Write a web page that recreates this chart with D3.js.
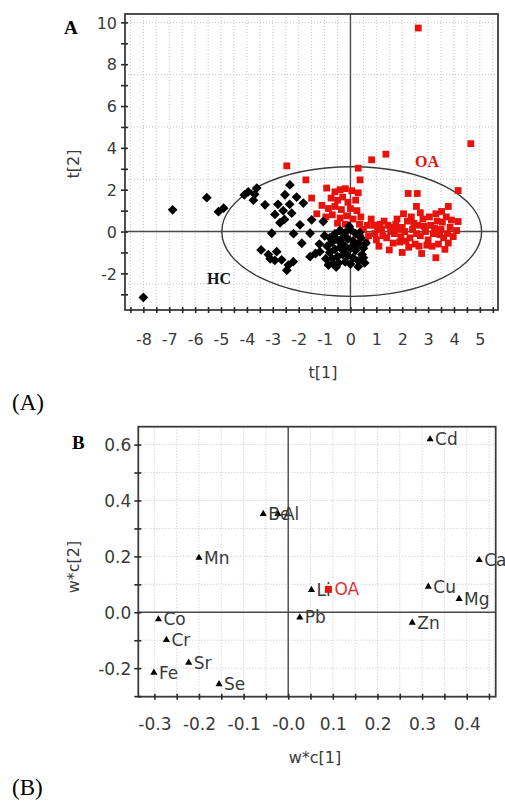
<!DOCTYPE html>
<html>
<head>
<meta charset="utf-8">
<script src="https://cdn.jsdelivr.net/npm/d3@7"></script>
<style>
  html, body { margin: 0; padding: 0; background: #fff; }
  svg { display: block; }
  .tick-lbl { font-family: 'DejaVu Sans', sans-serif; fill: #3a3a3a; }
</style>
</head>
<body>
<script>
// ---- Data ----------------------------------------------------------------
// Panel A: score plot t[1] vs t[2]
var hcScores = [
  [-8.0,-3.15],[-6.87,1.04],[-5.55,1.62],[-5.1,0.95],[-4.9,1.12],
  [-3.95,1.9],[-3.7,1.78],[-3.62,2.08],[-3.75,1.5],[-3.3,1.28],[-4.1,1.75],
  [-2.34,2.23],[-2.53,1.76],[-2.8,1.3],[-2.08,1.65],[-1.82,1.36],[-2.27,0.88],
  [-2.92,0.82],[-2.72,0.42],[-2.55,0.58],[-1.95,0.32],[-1.5,0.56],[-1.05,0.48],
  [-2.35,1.3],[-2.6,1.0],[-3.04,-0.08],[-1.56,-0.08],[-1.88,-0.56],[-2.2,-0.1],
  [-3.45,-0.88],[-3.17,-1.1],[-2.85,-0.96],[-2.66,-1.35],[-2.46,-1.85],[-2.21,-1.44],
  [-2.92,-1.38],[-3.1,-1.3],[-2.4,-1.6],[-1.56,-1.2],[-1.18,-0.96],[-1.35,-1.05],
  [-0.95,-1.3],[-0.8,-0.3],[-0.6,-0.1],[-0.4,0.05],[-0.2,-0.05],[0.0,0.1],
  [0.2,-0.1],[0.4,-0.3],[-0.9,-0.7],[-0.7,-0.5],[-0.5,-0.4],[-0.3,-0.3],
  [-0.1,-0.35],[0.1,-0.45],[0.3,-0.6],[0.5,-0.8],[-0.8,-1.0],[-0.6,-0.85],
  [-0.4,-0.75],[-0.2,-0.7],[0.0,-0.8],[0.2,-0.9],[0.45,-1.1],[-0.7,-1.3],
  [-0.5,-1.2],[-0.3,-1.1],[-0.1,-1.15],[0.1,-1.25],[0.3,-1.4],[0.5,-1.25],
  [-0.66,-1.55],[-0.45,-1.5],[-0.2,-1.45],[0.0,-1.55],[0.3,-1.68],[-0.85,-1.6],
  [-0.55,-1.7],[0.15,-0.6],[-0.25,-0.95],[0.6,-0.55],[-0.05,0.25],[-0.35,-0.55],
  [0.35,-0.05],[-1.2,-0.6],[-1.0,-0.2],[0.55,-1.5]
];
var oaScores = [
  [2.62,9.73],[4.65,4.2],[1.37,3.7],[0.82,3.43],[-2.46,3.14],[0.3,3.03],
  [-1.72,2.47],[0.37,2.47],[4.16,1.96],[2.23,1.82],[2.58,1.82],[2.55,1.2],
  [3.78,1.2],[3.52,0.96],[4.16,0.48],
  [-1.5,1.6],[-0.92,2.08],[-0.6,1.9],[-0.4,2.0],[-0.2,2.05],[0.05,1.95],[0.3,1.85],
  [-0.75,1.6],[-0.5,1.5],[-0.3,1.65],[-0.1,1.4],[0.2,1.5],[-1.1,1.25],[-0.85,1.1],
  [-0.6,1.2],[-0.35,1.05],[0.0,1.1],[0.25,1.0],[-1.3,0.85],[-0.95,0.7],[-0.7,0.8],
  [-0.4,0.65],[-0.15,0.75],[0.1,0.6],[0.4,0.7],[-0.5,0.4],[-0.2,0.35],[0.35,0.35],
  [0.5,0.1],[0.7,-0.2],[0.9,0.3],[1.0,-0.4],[1.2,0.1],[1.3,0.5],[1.4,-0.3],
  [1.5,-0.88],[1.6,0.2],[1.7,-0.1],[1.8,0.6],[1.9,-0.5],[2.0,-1.0],[2.0,0.2],
  [2.1,0.0],[2.2,0.5],[2.3,-0.3],[2.4,0.1],[2.5,-0.6],[2.6,0.3],[2.7,-0.2],
  [2.75,-1.05],[2.8,0.6],[2.9,0.0],[3.0,-0.4],[3.1,0.3],[3.2,-0.1],[3.3,-1.25],
  [3.35,0.5],[3.4,-0.6],[3.5,0.1],[3.6,-0.3],[3.7,0.7],[3.78,-0.55],[3.85,0.2],
  [3.97,-0.24],[4.1,0.05],[0.6,-0.5],[0.8,0.6],[1.1,-0.7],[1.25,-0.2],[1.45,0.3],
  [1.65,-0.55],[1.85,0.1],[2.15,-0.45],[2.35,0.7],[2.55,-0.1],[2.65,-0.7],
  [2.85,0.25],[3.05,0.7],[3.15,-0.7],[3.45,-0.15],[3.55,0.45],[3.65,-0.85],
  [3.9,0.55],[0.4,-0.3],[0.95,-0.1],[1.15,0.35],[1.55,0.0],[1.75,0.35],
  [1.95,-0.25],[2.25,-0.75],[2.45,0.4],[2.95,-0.65],[3.25,0.15],[3.75,-0.1],
  [1.05,0.15],[0.65,0.3],[2.05,0.85],[2.7,0.9],[3.3,0.85]
];
// Hotelling T2 ellipse (centre, semi-axes in t units)
var ellipseA = { cx: 0.05, cy: 0.0, rx: 5.02, ry: 3.1 };
var xTicksA = [-8,-7,-6,-5,-4,-3,-2,-1,0,1,2,3,4,5];
var yTicksA = [-2,0,2,4,6,8,10];

// Panel B: loading plot w*c[1] vs w*c[2]
var elements = ['Cd','Be','Al','Mn','Ca','Li','Cu','Mg','Co','Pb','Zn','Cr','Sr','Fe','Se'];
var wc1 = [0.318,-0.056,-0.023,-0.200,0.428,0.052,0.314,0.383,-0.291,0.026,0.278,-0.273,-0.223,-0.301,-0.155];
var wc2 = [0.619,0.352,0.352,0.195,0.187,0.080,0.092,0.048,-0.025,-0.018,-0.037,-0.099,-0.180,-0.216,-0.257];
var oaLoading = { name: 'OA', x: 0.090, y: 0.082 };
var xTicksB = [-0.3,-0.2,-0.1,0,0.1,0.2,0.3,0.4];
var yTicksB = [-0.2,0,0.2,0.4,0.6];

// ---- Render ---------------------------------------------------------------
var W = 505, H = 801;
var RED = '#e8120c';
var svg = d3.select('body').append('svg').attr('width', W).attr('height', H);

function range(a, b, step) {
  var out = [];
  for (var i = 0; a + i * step <= b + 1e-9; i++) out.push(+(a + i * step).toFixed(4));
  return out;
}

// shared frame/grid/axis drawing
function drawFrame(x, y, opt) {
  var x0 = x.range()[0], x1 = x.range()[1];
  var y0 = y.range()[1], y1 = y.range()[0];
  var g = svg.append('g');

  // dotted grid
  g.selectAll('.vg').data(opt.vGrid).enter().append('line')
    .attr('x1', function(d) { return x(d); }).attr('x2', function(d) { return x(d); })
    .attr('y1', y0).attr('y2', y1)
    .attr('stroke', '#c9c3cc').attr('stroke-width', 1).attr('stroke-dasharray', '1,2');
  g.selectAll('.hg').data(opt.hGrid).enter().append('line')
    .attr('x1', x0).attr('x2', x1)
    .attr('y1', function(d) { return y(d); }).attr('y2', function(d) { return y(d); })
    .attr('stroke', '#c9c3cc').attr('stroke-width', 1).attr('stroke-dasharray', '1,2');

  // zero lines
  g.append('line').attr('x1', x(0)).attr('x2', x(0)).attr('y1', y0).attr('y2', y1)
    .attr('stroke', '#4a4a4a').attr('stroke-width', 1.4);
  g.append('line').attr('x1', x0).attr('x2', x1).attr('y1', y(0)).attr('y2', y(0))
    .attr('stroke', '#4a4a4a').attr('stroke-width', 1.4);

  // frame
  g.append('rect').attr('x', x0).attr('y', y0).attr('width', x1 - x0).attr('height', y1 - y0)
    .attr('fill', 'none').attr('stroke', '#3c3c3c').attr('stroke-width', 1.8);

  // crossing tick marks
  var bt = svg.append('g').attr('transform', 'translate(0,' + y1 + ')')
    .call(d3.axisBottom(x).tickValues(opt.xMinor).tickSize(3).tickFormat(''));
  bt.select('.domain').remove();
  bt.selectAll('.tick line').attr('y1', -3).attr('stroke', '#2a2a2a').attr('stroke-width', 1.6);

  var lt = svg.append('g').attr('transform', 'translate(' + x0 + ',0)')
    .call(d3.axisLeft(y).tickValues(opt.yMinor).tickSize(4).tickFormat(''));
  lt.select('.domain').remove();
  lt.selectAll('.tick line').attr('x1', 3).attr('stroke', '#2a2a2a').attr('stroke-width', 1.6);

  // tick labels
  var bl = svg.append('g').attr('transform', 'translate(0,' + y1 + ')')
    .call(d3.axisBottom(x).tickValues(opt.xTicks).tickSize(0).tickFormat(opt.xFmt));
  bl.select('.domain').remove();
  bl.selectAll('text').attr('class', 'tick-lbl').attr('y', opt.xLblY).attr('dy', 0)
    .style('font-size', opt.fs + 'px').attr('fill', null);

  var ll = svg.append('g').attr('transform', 'translate(' + x0 + ',0)')
    .call(d3.axisLeft(y).tickValues(opt.yTicks).tickSize(0).tickFormat(opt.yFmt));
  ll.select('.domain').remove();
  ll.selectAll('text').attr('class', 'tick-lbl').attr('x', -opt.yLblPad).attr('dy', '0.36em')
    .style('font-size', opt.fs + 'px').attr('fill', null);
}

// plain hyphen-minus labels, as in the original software
function intFmt(d) { return String(d); }
function dec1Fmt(d) { return d === 0 ? '0.0' : d.toFixed(1); }

// ---- Panel A ----
var xA = d3.scaleLinear().domain([-8.71, 5.7]).range([125, 498]);
var yA = d3.scaleLinear().domain([-3.75, 10.4]).range([310, 14]);

drawFrame(xA, yA, {
  vGrid: range(-8.5, 5.5, 0.5), hGrid: range(-2.5, 10, 2.5),
  xMinor: range(-8.5, 5.5, 0.5), yMinor: range(-3, 10, 1),
  xTicks: xTicksA, yTicks: yTicksA,
  xFmt: intFmt, yFmt: intFmt,
  xLblY: 35, yLblPad: 8, fs: 16
});

// ellipse
svg.append('ellipse')
  .attr('cx', xA(ellipseA.cx)).attr('cy', yA(ellipseA.cy))
  .attr('rx', xA(ellipseA.rx) - xA(0)).attr('ry', yA(0) - yA(ellipseA.ry))
  .attr('fill', 'none').attr('stroke', '#3a3a3a').attr('stroke-width', 1.4);

// red squares (OA) first, black diamonds on top
var sq = 6.8;
svg.append('g').selectAll('rect').data(oaScores).enter().append('rect')
  .attr('x', function(d) { return xA(d[0]) - sq / 2; })
  .attr('y', function(d) { return yA(d[1]) - sq / 2; })
  .attr('width', sq).attr('height', sq).attr('fill', RED);

var dia = d3.symbol().type(d3.symbolSquare).size(48);
svg.append('g').selectAll('path').data(hcScores).enter().append('path')
  .attr('d', dia)
  .attr('transform', function(d) { return 'translate(' + xA(d[0]) + ',' + yA(d[1]) + ') rotate(45)'; })
  .attr('fill', '#000');

// labels
svg.append('text').attr('x', 64).attr('y', 34)
  .style('font', 'bold 19px "Liberation Serif", serif').text('A');
svg.append('text').attr('x', 415).attr('y', 167)
  .style('font', 'bold 16px "Liberation Serif", serif').attr('fill', RED).text('OA');
svg.append('text').attr('x', 207).attr('y', 284)
  .style('font', 'bold 16px "Liberation Serif", serif').attr('fill', '#111').text('HC');

svg.append('text').attr('transform', 'translate(79,164) rotate(-90)')
  .attr('text-anchor', 'middle').attr('class', 'tick-lbl').style('font-size', '16px').text('t[2]');
svg.append('text').attr('x', 323).attr('y', 378)
  .attr('text-anchor', 'middle').attr('class', 'tick-lbl').style('font-size', '16px').text('t[1]');

svg.append('text').attr('x', 12).attr('y', 410)
  .style('font', '23px "Liberation Serif", serif').text('(A)');

// ---- Panel B ----
var xB = d3.scaleLinear().domain([-0.336, 0.465]).range([138.3, 495.7]);
var yB = d3.scaleLinear().domain([-0.302, 0.664]).range([696.7, 426.7]);

drawFrame(xB, yB, {
  vGrid: range(-0.3, 0.45, 0.05), hGrid: range(-0.3, 0.6, 0.1),
  xMinor: range(-0.3, 0.45, 0.05), yMinor: range(-0.3, 0.6, 0.1),
  xTicks: xTicksB, yTicks: yTicksB,
  xFmt: function(d) { return d === 0 ? '-0.0' : dec1Fmt(d); },
  yFmt: dec1Fmt,
  xLblY: 33, yLblPad: 7, fs: 17
});

var tri = d3.symbol().type(d3.symbolTriangle).size(22);
var ptsB = elements.map(function(n, i) { return { name: n, x: wc1[i], y: wc2[i] }; });
var gB = svg.append('g');
gB.selectAll('path').data(ptsB).enter().append('path')
  .attr('d', tri)
  .attr('transform', function(d) { return 'translate(' + xB(d.x) + ',' + yB(d.y) + ')'; })
  .attr('fill', '#000');
gB.selectAll('text').data(ptsB).enter().append('text')
  .attr('class', 'tick-lbl').style('font-size', '17px')
  .attr('x', function(d) { return xB(d.x) + 5; })
  .attr('y', function(d) { return yB(d.y); })
  .attr('dy', '0.36em')
  .text(function(d) { return d.name; });

svg.append('rect')
  .attr('x', xB(oaLoading.x) - 3.5).attr('y', yB(oaLoading.y) - 3.5)
  .attr('width', 7).attr('height', 7).attr('fill', RED);
svg.append('text')
  .attr('x', xB(oaLoading.x) + 6).attr('y', yB(oaLoading.y)).attr('dy', '0.36em')
  .style('font', '17px "DejaVu Sans", sans-serif').attr('fill', '#d83a3a').text(oaLoading.name);

svg.append('text').attr('x', 72).attr('y', 449)
  .style('font', 'bold 19px "Liberation Serif", serif').text('B');

svg.append('text').attr('transform', 'translate(79,567) rotate(-90)')
  .attr('text-anchor', 'middle').attr('class', 'tick-lbl').style('font-size', '16px').text('w*c[2]');
svg.append('text').attr('x', 315).attr('y', 763)
  .attr('text-anchor', 'middle').attr('class', 'tick-lbl').style('font-size', '16px').text('w*c[1]');

svg.append('text').attr('x', 12).attr('y', 795)
  .style('font', '23px "Liberation Serif", serif').text('(B)');
</script>
</body>
</html>
